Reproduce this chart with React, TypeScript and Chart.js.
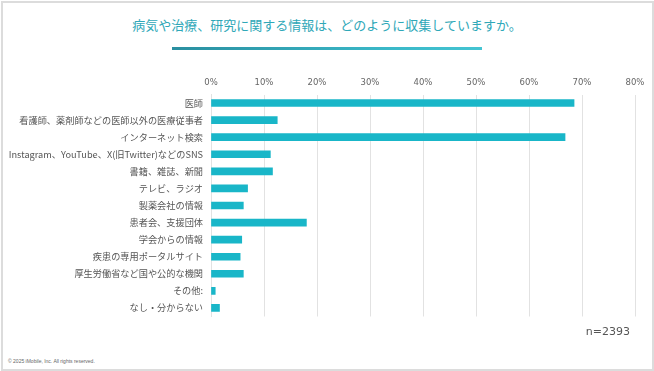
import React, { useEffect, useRef } from "react";
import { Chart, registerables } from "chart.js";

Chart.register(...registerables);

const categories = [
  "医師",
  "看護師、薬剤師などの医師以外の医療従事者",
  "インターネット検索",
  "Instagram、YouTube、X(旧Twitter)などのSNS",
  "書籍、雑誌、新聞",
  "テレビ、ラジオ",
  "製薬会社の情報",
  "患者会、支援団体",
  "学会からの情報",
  "疾患の専用ポータルサイト",
  "厚生労働省など国や公的な機関",
  "その他:",
  "なし・分からない",
];

const values = [68.5, 12.5, 66.8, 11.2, 11.6, 6.9, 6.1, 18.0, 5.8, 5.5, 6.1, 0.8, 1.6];

const xTicks = [0, 10, 20, 30, 40, 50, 60, 70, 80];

const title = "病気や治療、研究に関する情報は、どのように収集していますか。";
const sampleNote = "n=2393";
const copyright = "© 2025 iMobile, Inc. All rights reserved.";

export default function App() {
  const canvasRef = useRef<HTMLCanvasElement | null>(null);

  useEffect(() => {
    document.body.style.margin = "0";
    const ctx = canvasRef.current;
    if (!ctx) return;
    const chart = new Chart(ctx, {
      type: "bar",
      data: {
        labels: categories,
        datasets: [
          {
            data: values,
            backgroundColor: "#19b6c8",
            borderWidth: 0,
            barThickness: 7,
          },
        ],
      },
      options: {
        indexAxis: "y",
        animation: false,
        responsive: false,
        maintainAspectRatio: false,
        layout: { padding: { left: 0, right: 19, top: 0, bottom: 0 } },
        plugins: {
          legend: { display: false },
          tooltip: { enabled: false },
        },
        scales: {
          x: {
            position: "top",
            min: 0,
            max: 80,
            afterBuildTicks: (scale: any) => {
              scale.ticks = xTicks.map((v) => ({ value: v }));
            },
            afterFit: (scale: any) => {
              scale.height = 24.5;
            },
            grid: {
              color: "#e2e2e2",
              lineWidth: 1,
              drawTicks: false,
            },
            border: { display: false },
            ticks: {
              padding: 7,
              color: "#666",
              font: { family: "'DejaVu Sans', sans-serif", size: 8.5 },
              callback: (v: any) => v + "%",
            },
          },
          y: {
            afterFit: (scale: any) => {
              scale.width = 211;
            },
            grid: { display: false, drawTicks: false },
            border: { display: true, color: "#e2e2e2", width: 1 },
            ticks: {
              padding: 8,
              color: "#555",
              autoSkip: false,
              font: { family: "'Noto Sans CJK JP', sans-serif", size: 9.2 },
            },
          },
        },
      },
    });
    return () => chart.destroy();
  }, []);

  return (
    <div
      style={{
        position: "fixed",
        left: 0,
        top: 0,
        width: 654,
        height: 371,
        background: "#fff",
        overflow: "hidden",
      }}
    >
      <div
        style={{
          position: "absolute",
          left: 1,
          top: 1,
          width: 649,
          height: 366,
          border: "2px solid #dcdcdc",
        }}
      />
      <div
        style={{
          position: "absolute",
          left: 0,
          top: 15,
          width: 654,
          textAlign: "center",
          fontFamily: "'Noto Sans CJK JP', sans-serif",
          fontSize: 13,
          color: "#2fa8b8",
          lineHeight: "20px",
          whiteSpace: "nowrap",
        }}
      >
        {title}
      </div>
      <div
        style={{
          position: "absolute",
          left: 172,
          top: 47,
          width: 310,
          height: 3,
          background: "linear-gradient(to right, #2a8fa0, #3ab8c8 70%, #44c4d2)",
        }}
      />
      <canvas
        ref={canvasRef}
        width={654}
        height={260}
        style={{ position: "absolute", left: 0, top: 70, width: 654, height: 260 }}
      />
      <div
        style={{
          position: "absolute",
          left: 560,
          top: 325,
          width: 70,
          textAlign: "right",
          fontFamily: "'DejaVu Sans', sans-serif",
          fontSize: 11,
          color: "#555",
          whiteSpace: "nowrap",
        }}
      >
        {sampleNote}
      </div>
      <div
        style={{
          position: "absolute",
          left: 8,
          top: 358,
          fontFamily: "'Liberation Sans', sans-serif",
          fontSize: 5,
          color: "#666",
          whiteSpace: "nowrap",
        }}
      >
        {copyright}
      </div>
    </div>
  );
}
